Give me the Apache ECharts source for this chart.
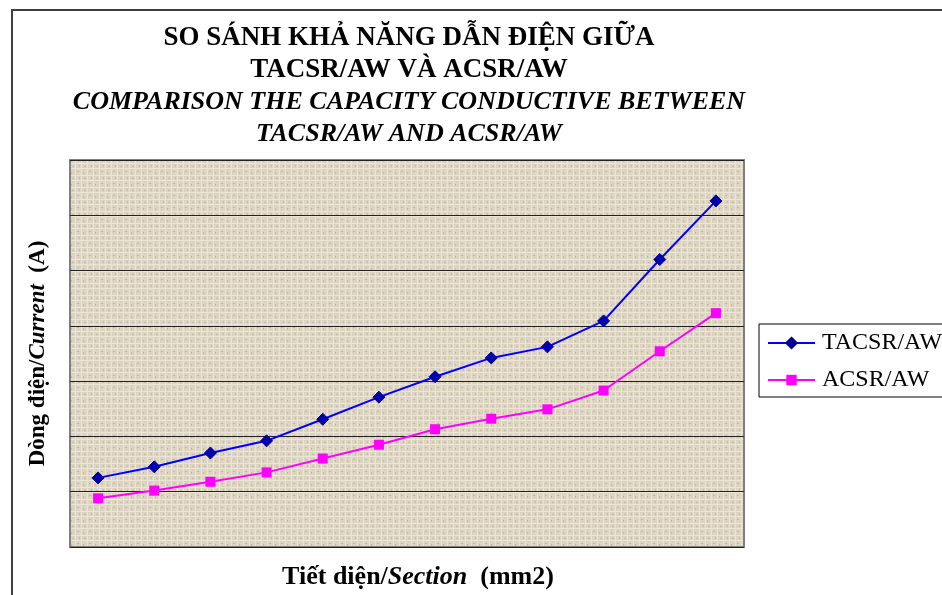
<!DOCTYPE html>
<html>
<head>
<meta charset="utf-8">
<script src="https://cdn.jsdelivr.net/npm/echarts@6/dist/echarts.min.js"></script>
<style>
  html, body { margin: 0; padding: 0; background: #fff; }
  #chart { width: 942px; height: 595px; }
</style>
</head>
<body>
<div id="chart"></div>
<script>
// axis has no printed labels, values read in grid steps (1 step = 100)
var sections = ['1', '2', '3', '4', '5', '6', '7', '8', '9', '10', '11', '12'];
var tacsr = [125, 145, 170, 192, 231, 271, 308, 342, 362, 409, 520, 626];
var acsr = [88, 102, 118, 135, 160, 185, 213, 232, 249, 283, 354, 423];

var serif = '"Liberation Serif", "Times New Roman", serif';

// beige woven texture for the plot area
function makeTexture() {
  var c = document.createElement('canvas');
  c.width = 12;
  c.height = 12;
  var ctx = c.getContext('2d');
  ctx.fillStyle = '#dcd3c0';
  ctx.fillRect(0, 0, 12, 12);
  ctx.fillStyle = '#ebe5d8';
  ctx.fillRect(0, 0, 12, 1);
  ctx.fillRect(0, 7, 12, 1);
  ctx.fillRect(3, 0, 1, 12);
  ctx.fillRect(9, 0, 1, 12);
  ctx.fillStyle = '#c6baa2';
  ctx.fillRect(5, 3, 2, 1);
  ctx.fillRect(0, 10, 2, 1);
  ctx.fillRect(7, 9, 1, 2);
  ctx.fillRect(11, 4, 1, 2);
  return c;
}

var chart = echarts.init(document.getElementById('chart'));

var option = {
  backgroundColor: '#fff',
  animation: false,
  title: {
    left: 409,
    top: 22,
    textAlign: 'center',
    padding: 0,
    text: '{a|SO SÁNH KHẢ NĂNG DẪN ĐIỆN GIỮA}\n{a|TACSR/AW VÀ ACSR/AW}\n' +
      '{b|COMPARISON THE CAPACITY CONDUCTIVE BETWEEN}\n{b|TACSR/AW AND ACSR/AW}',
    textStyle: {
      rich: {
        a: { fontFamily: serif, fontWeight: 'bold', fontSize: 27, lineHeight: 32, color: '#000' },
        b: { fontFamily: serif, fontWeight: 'bold', fontStyle: 'italic', fontSize: 26, lineHeight: 32, color: '#000' }
      }
    }
  },
  graphic: [{
    type: 'rect',
    shape: { x: 12, y: 10, width: 1000, height: 700 },
    style: { fill: 'none', stroke: '#404040', lineWidth: 2 },
    silent: true
  }],
  legend: {
    orient: 'vertical',
    left: 759,
    top: 324,
    padding: [7, 8, 5, 8],
    borderColor: '#000',
    borderWidth: 1,
    backgroundColor: '#fff',
    itemWidth: 47,
    itemHeight: 13,
    itemGap: 13,
    textStyle: { fontFamily: serif, fontSize: 24, lineHeight: 23, color: '#000', padding: [0, 0, 0, 2] },
    data: ['TACSR/AW', 'ACSR/AW']
  },
  grid: {
    left: 70,
    right: 198,
    top: 160,
    bottom: 42,
    show: true,
    backgroundColor: { image: makeTexture(), repeat: 'repeat' },
    borderColor: '#808080',
    borderWidth: 2
  },
  xAxis: {
    type: 'category',
    data: sections,
    boundaryGap: true,
    axisLine: { show: false },
    axisTick: { show: false },
    axisLabel: { show: false },
    name: '{n|Tiết diện/}{i|Section}{n|  (mm2)}',
    nameLocation: 'middle',
    nameGap: 17,
    nameTextStyle: {
      padding: [0, 0, 0, 22],
      rich: {
        n: { fontFamily: serif, fontWeight: 'bold', fontSize: 26, color: '#000' },
        i: { fontFamily: serif, fontWeight: 'bold', fontStyle: 'italic', fontSize: 26, color: '#000' }
      }
    }
  },
  yAxis: {
    type: 'value',
    min: 0,
    max: 700,
    interval: 100,
    axisLine: { show: false },
    axisTick: { show: false },
    axisLabel: { show: false },
    splitLine: { lineStyle: { color: '#222', width: 1 } },
    name: '{n|Dòng điện/}{i|Current}{n|  (A)}',
    nameLocation: 'middle',
    nameGap: 20,
    nameTextStyle: {
      rich: {
        n: { fontFamily: serif, fontWeight: 'bold', fontSize: 23, color: '#000' },
        i: { fontFamily: serif, fontWeight: 'bold', fontStyle: 'italic', fontSize: 23, color: '#000' }
      }
    }
  },
  series: [
    {
      name: 'TACSR/AW',
      type: 'line',
      data: tacsr,
      symbol: 'diamond',
      symbolSize: 12,
      lineStyle: { color: '#0000ff', width: 2 },
      itemStyle: { color: '#0000b0', borderColor: '#000080', borderWidth: 1 }
    },
    {
      name: 'ACSR/AW',
      type: 'line',
      data: acsr,
      symbol: 'rect',
      symbolSize: 10,
      lineStyle: { color: '#ff00ff', width: 2 },
      itemStyle: { color: '#ff00ff' }
    }
  ]
};

chart.setOption(option);
</script>
</body>
</html>
